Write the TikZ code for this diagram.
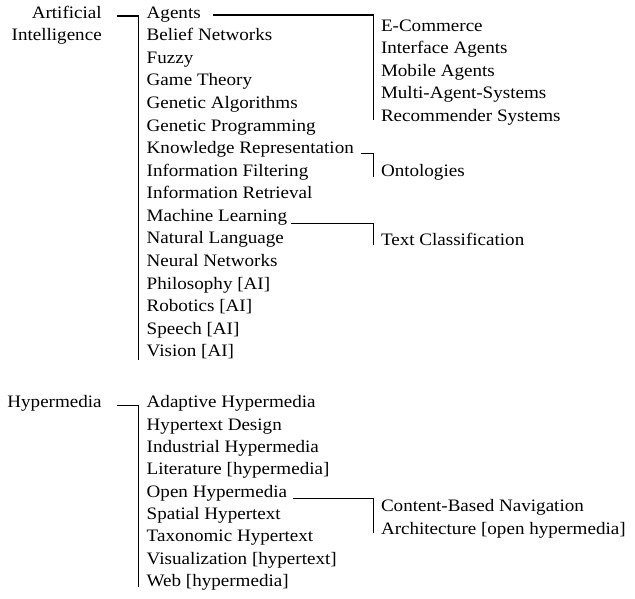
\documentclass[tikz,border=0pt]{standalone}
\usepackage{fontspec}
\setmainfont{Liberation Serif}[FakeStretch=1.09]
\usetikzlibrary{calc}
\begin{document}
\begin{tikzpicture}[x=1pt,y=-1pt,
  txt/.style={inner sep=0pt,outer sep=0pt,anchor=base west,font=\fontsize{17.5}{20}\selectfont},
  rtxt/.style={txt,anchor=base east},
  conn/.style={draw=black,line width=1.05pt}]
\useasboundingbox (0,0) rectangle (635,598);
% Artificial Intelligence
\node[rtxt] (ai1) at (101.7,18.3) {Artificial};
\node[rtxt] (ai2) at (101.7,40.8) {Intelligence};
\foreach \t [count=\i from 0] in {Agents,Belief Networks,Fuzzy,Game Theory,Genetic Algorithms,Genetic Programming,Knowledge Representation,Information Filtering,Information Retrieval,Machine Learning,Natural Language,Neural Networks,Philosophy [AI],Robotics [AI],Speech [AI],Vision [AI]}
  \node[txt] (a\i) at (146.7,18.3+\i*22.56) {\t};
\foreach \t [count=\i from 0] in {E-Commerce,Interface Agents,Mobile Agents,Multi-Agent-Systems,Recommender Systems}
  \node[txt] (ag\i) at (381,31+\i*22.6) {\t};
\node[txt] (onto) at (381,176.3) {Ontologies};
\node[txt] (tc) at (381,245.5) {Text Classification};
% Hypermedia
\node[rtxt] (hm) at (101.7,407.7) {Hypermedia};
\foreach \t [count=\i from 0] in {Adaptive Hypermedia,Hypertext Design,Industrial Hypermedia,Literature [hypermedia],Open Hypermedia,Spatial Hypertext,Taxonomic Hypertext,Visualization [hypertext],Web [hypermedia]}
  \node[txt] (h\i) at (146.7,407.7+\i*22.37) {\t};
\node[txt] (cb) at (381,511.7) {Content-Based Navigation};
\node[txt] (arch) at (381,534.5) {Architecture [open hypermedia]};
% connectors
\draw[conn] ($(ai1.base east)+(15,-2.3)$) -| ($(a15.base west)+(-8.4,3.3)$);
\draw[conn] ($(a0.base east)+(12.7,-3.3)$) -| ($(ag4.base west)+(-7.5,-1.7)$);
\draw[conn] ($(a6.base east)+(7.3,0.3)$) -| ($(onto.base west)+(-7.3,0.4)$);
\draw[conn] ($(a9.base east)+(4.4,2)$) -| ($(tc.base west)+(-7.3,-0.5)$);
\draw[conn] ($(hm.base east)+(15.3,-2)$) -| ($(h8.base west)+(-8.4,0.8)$);
\draw[conn] ($(h4.base east)+(6,1)$) -| ($(arch.base west)+(-7.6,-1.2)$);
\end{tikzpicture}
\end{document}
